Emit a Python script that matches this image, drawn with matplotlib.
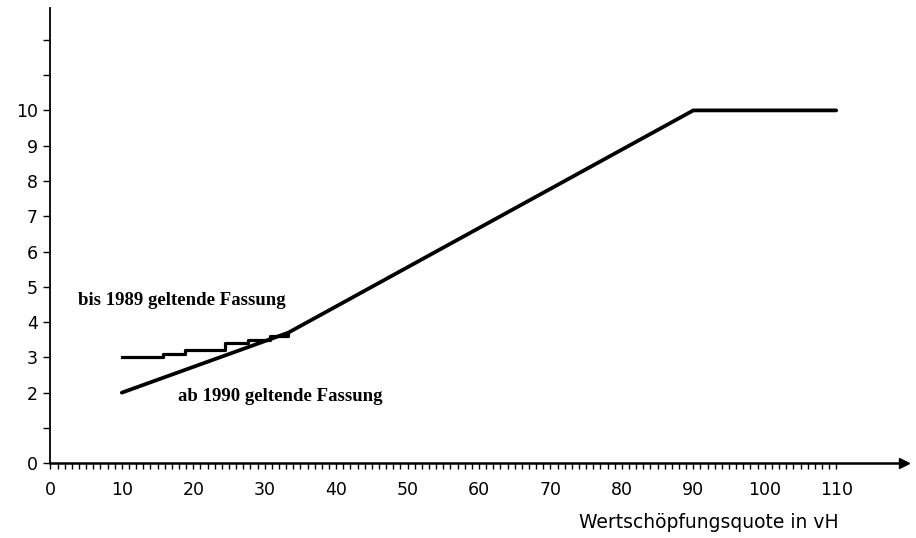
import matplotlib.pyplot as plt
from matplotlib.ticker import FixedLocator

# Wertschöpfungsquote (x) vs. Präferenz in vH (y)
new_x = [10, 33.3, 90, 110]
new_y = [2.0, 3.7, 10.0, 10.0]

# old version: small steps up to where it meets the new line
old_x = [10, 15.7, 18.9, 24.4, 27.6, 30.7, 33.3]
old_y = [3.0, 3.1, 3.2, 3.4, 3.5, 3.6, 3.7]

x_ticks = [0, 10, 20, 30, 40, 50, 60, 70, 80, 90, 100, 110]
y_ticks = list(range(0, 13))
y_labels = ["0", "", "2", "3", "4", "5", "6", "7", "8", "9", "10", "", ""]

label_old = "bis 1989 geltende Fassung"
label_new = "ab 1990 geltende Fassung"
x_title = "Wertschöpfungsquote in vH"


def plot_chart():
    fig = plt.figure(figsize=(9.16, 5.38), dpi=100)
    ax = fig.add_axes([0.055, 0.139, 0.932, 0.846])

    ax.plot(new_x, new_y, color="black", lw=2.7, solid_capstyle="round")
    ax.step(old_x, old_y, where="post", color="black", lw=2.3)

    ax.set_xlim(0, 119.5)
    ax.set_ylim(0, 12.9)

    for side in ("top", "right"):
        ax.spines[side].set_visible(False)
    ax.spines["left"].set_linewidth(1.3)
    ax.spines["bottom"].set_linewidth(1.8)
    # arrow head at the end of the x axis
    ax.plot(1, 0, ">", color="black", ms=7, transform=ax.get_yaxis_transform(),
            clip_on=False)

    ax.xaxis.set_major_locator(FixedLocator(x_ticks))
    ax.xaxis.set_minor_locator(FixedLocator(list(range(0, 111))))
    ax.set_xticklabels([str(v) for v in x_ticks])
    ax.tick_params(axis="x", which="both", direction="out", length=4, width=1,
                   pad=9, labelsize=12.5)

    ax.set_yticks(y_ticks)
    ax.set_yticklabels(y_labels)
    ax.tick_params(axis="y", direction="out", length=5, width=1, pad=4,
                   labelsize=12.5)

    ax.text(3.8, 4.6, label_old, family="Liberation Serif", fontsize=13.5,
            fontweight="bold", ha="left", va="center")
    ax.text(17.8, 1.9, label_new, family="Liberation Serif", fontsize=13.5,
            fontweight="bold", ha="left", va="center")

    fig.text(0.915, 0.028, x_title, fontsize=13.5, ha="right", va="center")

    fig.savefig("out.png", dpi=100)


if __name__ == "__main__":
    plot_chart()
